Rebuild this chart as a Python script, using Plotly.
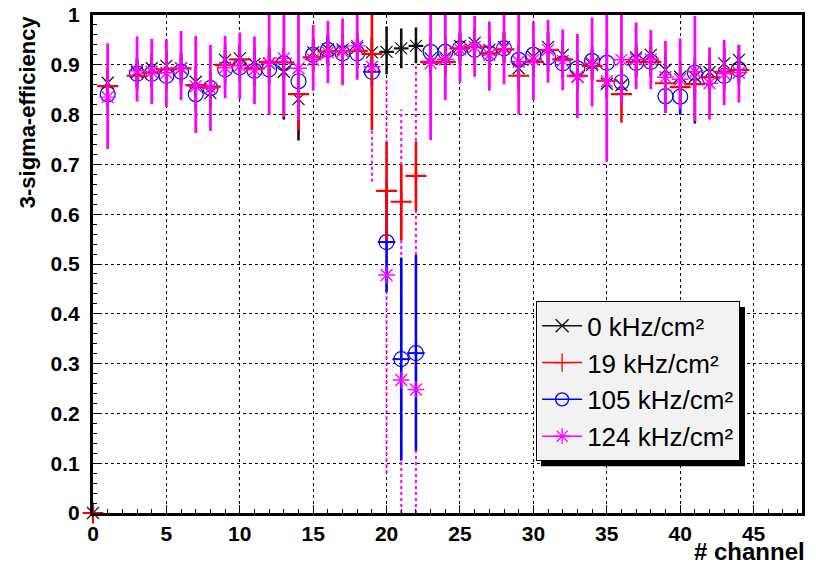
import plotly.graph_objects as go

# ---------------- data ----------------
channels = [1, 3, 4, 5, 6, 7, 8, 9, 10, 11, 12, 13, 14, 15, 16, 17, 18, 19, 20, 21, 22,
            23, 24, 25, 26, 27, 28, 29, 30, 31, 32, 33, 34, 35, 36, 37, 38, 39, 40, 41, 42, 43, 44]

zero_channel = [0]
zero_eff = [0.0]

# 0 kHz/cm2
eff_0 = [.864, .885, .893, .898, .893, .866, .843, .910, .913, .902, .903, .886, .831, .925, .931, .931, .934,
         .925, .926, .933, .938, .913, .915, .938, .944, .930, .936, .893, .916, .936, .920, .876, .900, .862,
         .859, .915, .920, .890, .876, .876, .885, .903, .910]
err_0_dn = [.03, .03, .03, .03, .03, .03, .03, .03, .03, .03, .03, .096, .083, .03, .03, .03, .03,
            .03, .045, .04, .035, .03, .03, .03, .03, .03, .03, .03, .03, .03, .03, .03, .03, .03,
            .03, .03, .03, .03, .03, .094, .03, .03, .03]
err_0_up = [.03, .03, .03, .03, .03, .03, .03, .03, .03, .03, .03, .03, .03, .03, .03, .03, .03,
            .03, .051, .04, .037, .03, .03, .03, .03, .03, .03, .03, .03, .03, .03, .03, .03, .03,
            .03, .03, .03, .03, .03, .03, .03, .03, .03]
errx_0 = [0] * 18 + [0.5, 0.5, 0.5] + [0] * 22

# 19 kHz/cm2
eff_19 = [.857, .878, .884, .891, .893, .859, .856, .900, .911, .893, .906, .905, .841, .915, .927, .927, .928,
          .922, .647, .625, .677, .906, .906, .933, .936, .923, .931, .878, .906, .930, .911, .878, .898, .868,
          .841, .906, .906, .863, .855, .861, .875, .886, .890]
err_19_dn = [.03, .03, .03, .03, .03, .03, .03, .03, .03, .03, .03, .03, .072, .03, .03, .03, .03,
             .153, .099, .077, .07, .03, .03, .03, .03, .03, .03, .03, .03, .03, .03, .03, .03, .03,
             .057, .03, .03, .03, .03, .03, .03, .03, .03]
err_19_up = [.03, .03, .03, .03, .03, .03, .03, .03, .03, .03, .03, .03, .03, .03, .03, .03, .03,
             .078, .098, .075, .069, .03, .03, .03, .03, .03, .03, .03, .03, .03, .03, .03, .03, .03,
             .03, .03, .03, .03, .03, .03, .03, .03, .03]

# 105 kHz/cm2
eff_105 = [.841, .882, .882, .878, .886, .841, .853, .891, .895, .888, .891, .903, .867, .920, .930, .923, .923,
           .886, .544, .309, .321, .926, .926, .933, .930, .923, .933, .910, .920, .915, .903, .893, .908, .904,
           .865, .904, .906, .837, .836, .884, .875, .878, .891]
err_105_dn = [.03, .03, .03, .03, .03, .03, .03, .03, .03, .03, .03, .03, .03, .03, .03, .03, .03,
              .03, .10, .204, .196, .03, .03, .03, .03, .03, .03, .03, .03, .03, .03, .03, .03, .03,
              .042, .03, .03, .03, .036, .03, .03, .03, .03]
err_105_up = [.03, .03, .03, .03, .03, .03, .03, .03, .03, .03, .03, .03, .03, .03, .03, .03, .03,
              .03, .10, .204, .197, .03, .03, .03, .03, .03, .03, .03, .03, .03, .03, .03, .03, .03,
              .03, .03, .03, .03, .03, .03, .03, .03, .03]
errx_105 = [0] * 17 + [0.6, 0.6, 0.6, 0.6] + [0] * 22

# 124 kHz/cm2
eff_124 = [.835, .888, .886, .884, .893, .857, .853, .894, .898, .890, .903, .913, .893, .910, .925, .927, .938,
           .896, .478, .267, .248, .903, .911, .931, .936, .920, .933, .906, .910, .930, .908, .876, .903, .867,
           .910, .911, .911, .875, .871, .886, .863, .882, .884]
hi_124 = [.943, .957, .952, .951, .968, .958, .940, .958, .965, .957, 1.0, 1.0, 1.0, .980, .988, .993, 1.0,
          1.0, .870, .810, .900, 1.0, 1.0, 1.0, .998, .987, 1.0, 1.0, .987, .990, .971, .962, .995, 1.0,
          1.0, .985, .970, .948, .953, .998, .935, .950, .940]
lo_124 = [.731, .826, .821, .815, .829, .763, .767, .833, .831, .821, .800, .795, .789, .848, .863, .859, .870,
          .665, .080, .0, .0, .749, .829, .864, .876, .848, .861, .800, .829, .864, .849, .793, .816, .705,
          .823, .851, .851, .803, .811, .786, .790, .819, .824]
dotted_channels = [19, 20, 21, 22]

labels = ["0 kHz/cm²", "19 kHz/cm²", "105 kHz/cm²", "124 kHz/cm²"]
colors = ["#111111", "#ff0000", "#0000ff", "#ff00ff"]

# ---------------- figure ----------------
fig = go.Figure()

# dotted magenta error bars
dx, dy = [], []
for c, h, l in zip(channels, hi_124, lo_124):
    if c in dotted_channels:
        dx += [c, c, None]
        dy += [l, h, None]
fig.add_trace(go.Scatter(x=dx, y=dy, mode="lines", showlegend=False, hoverinfo="skip",
                         line=dict(color="#ff00ff", width=2, dash="dot")))

# 0 kHz
fig.add_trace(go.Scatter(
    x=zero_channel + channels, y=zero_eff + eff_0, mode="markers", showlegend=False, cliponaxis=False,
    marker=dict(symbol="x-thin", size=12, line=dict(color=colors[0], width=1.2), color=colors[0]),
    error_y=dict(type="data", symmetric=False, array=[0] + err_0_up, arrayminus=[0] + err_0_dn,
                 color=colors[0], thickness=2.6, width=0),
    error_x=dict(type="data", array=[0] + errx_0, color=colors[0], thickness=2.2, width=0)))

# 105 kHz
fig.add_trace(go.Scatter(
    x=channels, y=eff_105, mode="markers", showlegend=False,
    marker=dict(symbol="circle-open", size=15, line=dict(color=colors[2], width=1.2), color=colors[2]),
    error_y=dict(type="data", symmetric=False, array=err_105_up, arrayminus=err_105_dn,
                 color=colors[2], thickness=2.6, width=0),
    error_x=dict(type="data", array=errx_105, color=colors[2], thickness=2, width=0)))

# 19 kHz
fig.add_trace(go.Scatter(
    x=zero_channel + channels, y=zero_eff + eff_19, mode="markers", showlegend=False, cliponaxis=False,
    marker=dict(symbol="cross-thin", size=15, line=dict(color=colors[1], width=2.2), color=colors[1]),
    error_y=dict(type="data", symmetric=False, array=[0] + err_19_up, arrayminus=[0] + err_19_dn,
                 color=colors[1], thickness=2.6, width=0)))

# 124 kHz
mag_up = [0 if c in dotted_channels else h - v for c, h, v in zip(channels, hi_124, eff_124)]
mag_dn = [0 if c in dotted_channels else v - l for c, l, v in zip(channels, lo_124, eff_124)]
fig.add_trace(go.Scatter(
    x=channels, y=eff_124, mode="markers", showlegend=False,
    marker=dict(symbol="asterisk", size=14, line=dict(color=colors[3], width=1.4), color=colors[3]),
    error_y=dict(type="data", symmetric=False, array=mag_up, arrayminus=mag_dn,
                 color=colors[3], thickness=2.8, width=0)))

# legend entries
symbols = ["x-thin", "cross-thin", "circle-open", "asterisk"]
for i, (lab, col, sym) in enumerate(zip(labels, colors, symbols)):
    fig.add_trace(go.Scatter(
        x=[None], y=[None], mode="lines+markers", name=lab, legendgroup=f"g{i}",
        line=dict(color=col, width=1.5),
        marker=dict(symbol=sym, size=13, color=col, line=dict(color=col, width=1.3))))

font_family = "Liberation Sans, Arial, sans-serif"
axis_common = dict(
    showline=True, linewidth=3, linecolor="black", mirror=True, automargin=False,
    showgrid=True, gridcolor="black", gridwidth=1, griddash="dot",
    zeroline=False, ticks="inside", tickcolor="black", tickwidth=1, ticklen=8,
    tickfont=dict(family=font_family, size=21, color="black", weight="bold"),
)

fig.update_layout(
    width=816, height=567,
    margin=dict(l=93, r=14, t=15, b=54, autoexpand=False),
    paper_bgcolor="white", plot_bgcolor="white",
    xaxis=dict(range=[0, 48.3], tick0=0, dtick=5, ticklabelstandoff=0,
               minor=dict(dtick=1, ticks="inside", ticklen=4, tickcolor="black", showgrid=False),
               **axis_common),
    yaxis=dict(range=[0, 1], tick0=0, dtick=0.1, ticklabelstandoff=6,
               minor=dict(dtick=0.02, ticks="inside", ticklen=4, tickcolor="black", showgrid=False),
               **axis_common),
    legend=dict(x=0.625, y=0.425, xanchor="left", yanchor="top",
                bgcolor="#f2f2f2", bordercolor="black", borderwidth=1,
                font=dict(family=font_family, size=26, color="black"),
                itemwidth=40, tracegroupgap=0),
    showlegend=True,
    annotations=[
        dict(text="3-sigma-efficiency", xref="paper", yref="paper", x=-0.092, y=1.004,
             xanchor="center", yanchor="top", textangle=-90, showarrow=False,
             font=dict(family=font_family, size=22, color="black", weight="bold")),
        dict(text="# channel", xref="paper", yref="paper", x=1.007, y=-0.1084,
             xanchor="right", yanchor="bottom", showarrow=False,
             font=dict(family=font_family, size=24, color="black", weight="bold")),
    ],
    shapes=[
        dict(type="rect", xref="paper", yref="paper", x0=0.632, x1=0.9196, y0=0.094, y1=0.4137,
             fillcolor="black", line=dict(width=0), layer="above"),
    ],
)

fig.write_html("out.html", post_script="document.body.style.margin='0px';",
               config={"displayModeBar": False})
